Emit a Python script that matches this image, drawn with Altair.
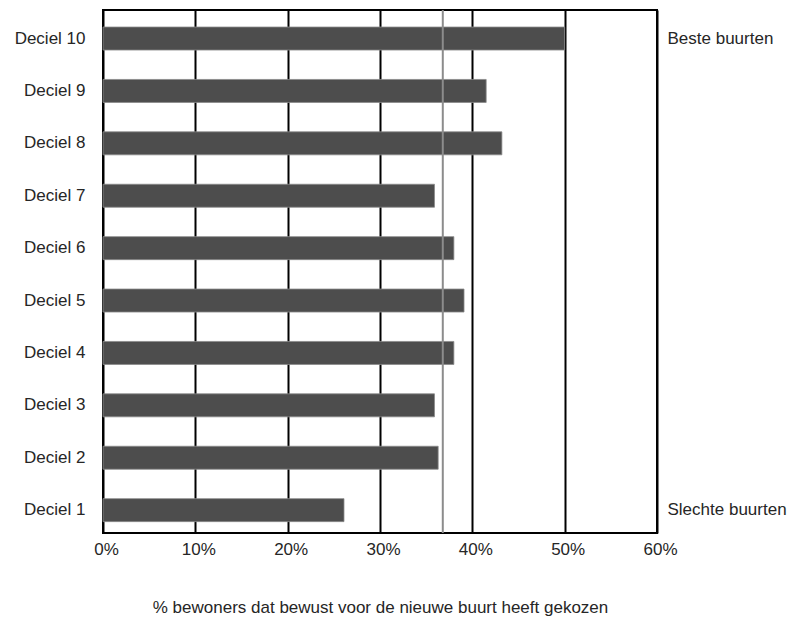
import altair as alt
import pandas as pd

deciles = ["Deciel 10", "Deciel 9", "Deciel 8", "Deciel 7", "Deciel 6",
           "Deciel 5", "Deciel 4", "Deciel 3", "Deciel 2", "Deciel 1"]
shares = [0.500, 0.415, 0.432, 0.359, 0.380, 0.391, 0.380, 0.359, 0.363, 0.261]
average = [0.368]
x_ticks = [0, 0.1, 0.2, 0.3, 0.4, 0.5, 0.6]
right_labels = {"Deciel 10": "Beste buurten", "Deciel 1": "Slechte buurten"}
x_title = "% bewoners dat bewust voor de nieuwe buurt heeft gekozen"

df = pd.DataFrame({"deciel": deciles, "share": shares})
avg_df = pd.DataFrame({"avg": average})

FONT = "Liberation Sans"
TXT = "#262626"

y_scale = alt.Scale(domain=deciles, paddingInner=0.561, paddingOuter=0.271, align=0.6)
x_scale = alt.Scale(domain=[0, 0.6], nice=False)

bars = alt.Chart(df).mark_bar(color="#4d4d4d", stroke="#8a8a8a", strokeWidth=0.8).encode(
    x=alt.X("share:Q", scale=x_scale,
            axis=alt.Axis(values=x_ticks, format=".0%", grid=True, gridColor="black",
                          gridWidth=2, gridOpacity=1, ticks=False, domain=False,
                          labelFlush=False, labelOffset=3,
                          labelPadding=8, title=x_title, titlePadding=42)),
    y=alt.Y("deciel:N", scale=y_scale, sort=deciles,
            axis=alt.Axis(title=None, ticks=False, domain=False, labelPadding=18, grid=False)),
)

avg_rule = alt.Chart(avg_df).mark_rule(color="#8c8c8c", strokeWidth=2).encode(
    x=alt.X("avg:Q", scale=x_scale)
)

expr = " : ".join(f"datum.value == '{k}' ? '{v}'" for k, v in right_labels.items()) + " : ''"
right_axis = alt.Chart(df).mark_text(text="").encode(
    y=alt.Y("deciel:N", scale=y_scale, sort=deciles,
            axis=alt.Axis(orient="right", title=None, ticks=False, domain=False,
                          labelPadding=10, grid=False, labelExpr=expr)),
)

chart = alt.layer(bars, avg_rule, right_axis).resolve_axis(y="independent").properties(
    width=554, height=523,
    autosize=alt.AutoSizeParams(type="none"),
    padding={"left": 95, "top": 2, "right": 130, "bottom": 83},
).configure_view(stroke="black", strokeWidth=2).configure_axis(
    labelFont=FONT, titleFont=FONT, labelFontSize=17, titleFontSize=17,
    labelColor=TXT, titleColor=TXT, titleFontWeight="normal",
)

chart.save("out.html", embed_options={"renderer": "svg", "actions": False})
